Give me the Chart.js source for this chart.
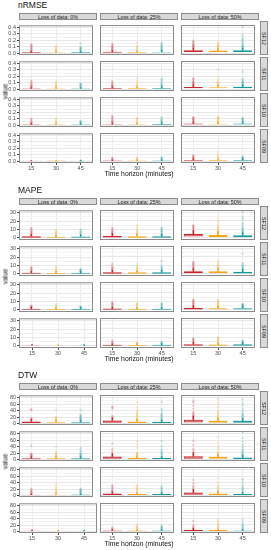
<!DOCTYPE html>
<html lang="en">
<head>
<meta charset="UTF-8">
<title>Forecast error by time horizon</title>
<script src="https://cdn.jsdelivr.net/npm/chart.js"></script>
<style>
  body { margin: 0; background: #fff; font-family: "Liberation Sans", Arial, sans-serif; }
  #page { position: relative; width: 271px; height: 550px; overflow: hidden; }
  canvas { position: absolute; }
  .title { position: absolute; left: 18px; font-size: 8.5px; line-height: 9px; color: #111; }
  .strip {
    position: absolute; box-sizing: border-box; background: #d9d9d9; border: 1px solid #8c8c8c;
    font-size: 5.4px; color: #222; display: flex; align-items: center; justify-content: center; white-space: nowrap;
  }
  .strip.side { writing-mode: vertical-rl; }
  .ylab { position: absolute; width: 30px; text-align: center; font-size: 6.5px; line-height: 7px; color: #111; transform: rotate(-90deg); }
  .xlab { position: absolute; left: 19px; width: 240px; text-align: center; font-size: 6.8px; line-height: 8px; color: #111; }
</style>
</head>
<body>
<div id="page"></div>
<script>
const metricNames = ['nRMSE', 'MAPE', 'DTW'];
const lossLabels = ['Loss of data: 0%', 'Loss of data: 25%', 'Loss of data: 50%'];
const sites = ['SF12', 'SF11', 'SF10', 'SF09'];
const horizons = ['15', '30', '45'];

// boxes: [q1, q3, upper whisker] for site row / loss column / horizon
const nrmseBoxes = [
  [[[0.002,0.012,0.028],[0.001,0.01,0.024],[0.002,0.012,0.028]],
   [[0.006,0.02,0.04],[0.006,0.018,0.036],[0.008,0.022,0.045]],
   [[0.018,0.042,0.08],[0.018,0.038,0.07],[0.018,0.042,0.08]]],
  [[[0.002,0.01,0.025],[0.001,0.009,0.022],[0.002,0.01,0.024]],
   [[0.005,0.016,0.035],[0.005,0.016,0.035],[0.006,0.018,0.04]],
   [[0.012,0.032,0.065],[0.012,0.03,0.06],[0.014,0.034,0.07]]],
  [[[0.002,0.01,0.022],[0.001,0.009,0.02],[0.002,0.01,0.022]],
   [[0.004,0.014,0.032],[0.004,0.013,0.03],[0.005,0.015,0.034]],
   [[0.008,0.024,0.05],[0.008,0.022,0.048],[0.008,0.024,0.05]]],
  [[[0,0.004,0.008],[0,0.003,0.007],[0,0.004,0.008]],
   [[0.002,0.008,0.016],[0.001,0.007,0.015],[0.002,0.009,0.018]],
   [[0.004,0.018,0.04],[0.004,0.016,0.036],[0.005,0.018,0.04]]]
];
const nrmseOutliers = [
  [[[0.035,0.045,0.055,0.065,0.08,0.095,0.11,0.125,0.14],[0.03,0.04,0.05,0.06,0.075,0.09,0.11],[0.035,0.045,0.055,0.065,0.075,0.085,0.095,0.15]],
   [[0.05,0.06,0.07,0.08,0.09,0.1,0.115,0.13,0.145],[0.045,0.06,0.08,0.095,0.11,0.16],[0.055,0.065,0.075,0.085,0.1,0.11,0.125,0.14,0.16]],
   [[0.09,0.1,0.11,0.12,0.13,0.14,0.16,0.175,0.19],[0.08,0.09,0.1,0.11,0.12,0.13,0.15,0.165],[0.09,0.1,0.11,0.12,0.14,0.16,0.18,0.2,0.22,0.25,0.28,0.41]]],
  [[[0.03,0.04,0.05,0.06,0.075,0.09,0.11,0.13],[0.03,0.04,0.05,0.065,0.08,0.1,0.12],[0.03,0.04,0.05,0.06,0.07,0.08,0.09]],
   [[0.04,0.05,0.06,0.07,0.085,0.1,0.12],[0.04,0.05,0.06,0.08,0.1,0.13,0.17],[0.05,0.06,0.07,0.08,0.1,0.12,0.14,0.16]],
   [[0.07,0.08,0.09,0.1,0.11,0.12,0.14,0.155,0.17],[0.07,0.08,0.09,0.1,0.12,0.15,0.19,0.3],[0.08,0.09,0.1,0.11,0.12,0.14,0.16,0.27]]],
  [[[0.025,0.035,0.045,0.06,0.08,0.1],[0.025,0.035,0.045,0.06,0.08,0.1],[0.028,0.035,0.045,0.055,0.065]],
   [[0.04,0.05,0.06,0.075,0.09,0.11,0.125,0.14],[0.035,0.045,0.06,0.08,0.1,0.11],[0.04,0.05,0.06,0.07,0.085,0.1,0.12]],
   [[0.06,0.07,0.08,0.09,0.1,0.11,0.12],[0.055,0.065,0.075,0.09,0.1,0.11,0.12,0.13],[0.06,0.07,0.08,0.09,0.1,0.11]]],
  [[[],[],[0.012]],
   [[0.02,0.03,0.04,0.05],[0.02,0.03,0.04,0.05],[0.022,0.03,0.04,0.05,0.06]],
   [[0.045,0.055,0.065,0.075,0.09],[0.045,0.06,0.08,0.1,0.14],[0.045,0.055,0.065,0.07]]]
];
const nrmseTicks = [0, 0.1, 0.2, 0.3, 0.4];
const nrmseTickLabels = ['0.0', '0.1', '0.2', '0.3', '0.4'];
const nrmseMinor = [0.05, 0.15, 0.25, 0.35];
const nrmseRange = [-0.03, 0.435];

const mapeBoxes = [
  [[[0.2,2,4.5],[0.1,1.5,3.5],[0.2,1.8,4]],
   [[0.5,2.5,5.5],[0.3,2,5],[0.3,1.8,4.5]],
   [[1.5,4.5,9],[1,3.5,8],[0.8,3,7]]],
  [[[0.1,1.5,3.5],[0.1,1.2,3],[0.1,1.3,3]],
   [[0.3,2,4.5],[0.2,1.8,4],[0.3,1.8,4.5]],
   [[0.8,3,7],[0.8,3,7],[0.5,2.5,6]]],
  [[[0.1,1.5,3],[0.1,1.2,2.8],[0.1,1.2,2.8]],
   [[0.2,1.5,3.5],[0.2,1.3,3],[0.2,1.4,3.2]],
   [[0.5,2.5,5.5],[0.4,2,5],[0.4,2,4.5]]],
  [[[0,0.8,1.6],[0,0.6,1.4],[0,0.7,1.5]],
   [[0.1,1.2,2.5],[0.1,1,2.2],[0.1,1.2,2.5]],
   [[0.3,2,4.5],[0.2,1.5,3.5],[0.3,1.8,4]]]
];
const mapeOutliers = [
  [[[5,6,7,8,9.5,11,12],[4.5,5.5,6.5,7.5,9],[5,6,7,8,10]],
   [[6,7,8,9,10.5,12],[6,7,8,9.5,11,13,15],[5,6,7,8,9,10,11,12]],
   [[10,11,12,13,14,15],[9,10,11,12,13,15,17,20,24],[8,9,10,11,12,14,16,18,22,25,31]]],
  [[[4,5,6,7,8],[3.5,4.5,5.5,7,8.5],[3.5,4,4.5,5,6]],
   [[5,6,7,8,10,12],[5,6,7,8,10,12],[5,6,7,8,10,15]],
   [[8,9,10,11,12,13,14],[8,9,10,11,13,15],[7,8,9,10,11,13,24]]],
  [[[3.5,4,4.5,5],[3.5,4.5,5.5,7],[3.2,3.6,4]],
   [[4,5,6,7,8,9],[4,5,6,7,8],[4,5,6,7,8]],
   [[6,7,8,9,10,11,12],[6,7,8,9,10,11,12],[5,5.5,6,6.5,7]]],
  [[[],[],[]],
   [[3,4,5,6],[2.8,3.2,3.6,4],[3,3.5,4,5]],
   [[5,6,7,8,9],[4,5,6,7,8,9,10],[4.5,5,5.5,6]]]
];
const mapeTicks = [0, 10, 20, 30];
const mapeTickLabels = ['0', '10', '20', '30'];
const mapeMinor = [5, 15, 25];
const mapeRange = [-2.5, 33];

const dtwBoxes = [
  [[[1,6,12],[0.5,4,9],[0.5,4,9]],
   [[2,9,18],[1,6,13],[1,5,11]],
   [[3,11,23],[2,8,18],[2,8,17]]],
  [[[0.5,4,9],[0.5,4,9],[0.5,4,9]],
   [[2,9,18],[1,5,11],[1,4,9]],
   [[2,10,21],[2,8,17],[1,6,14]]],
  [[[0.5,2,4.5],[0.5,2,4.5],[0.5,2.5,5]],
   [[1,6,12],[1,4,9],[1,4,9]],
   [[2,9,19],[1,6,13],[1,4,9]]],
  [[[0,2,4],[0,1.5,3],[0,1.8,3.5]],
   [[0.5,3,6],[0.5,2.5,5],[0.5,3,6]],
   [[1,5,10],[1,4,8],[1,3,7]]]
];
const dtwOutliers = [
  [[[13,15,17,42,44],[10,12,14,16,18,20,42],[10,12,14,16,18,20,22,25,28,42]],
   [[20,24,45,50,52],[15,18,21,24,27,30,35,40,50,66],[13,16,19,22,25,28,32,40,45,67]],
   [[25,28,32,35,45,55,65,70],[20,23,26,30,34,38,50,62,75],[19,22,25,28,32,38,45,55,62,73]]],
  [[[10,12,14,16,18,43],[10,12,14,17,20,23,38],[10,12,14,16,18,22,26,30,36]],
   [[20,26,32,49],[13,15,17,19,21,35,45,56],[11,14,17,20,23,26,30,40,57]],
   [[23,28,33,45,58],[19,23,28,34,40,52,70],[16,19,22,25,28,32,38,45,55,66,85]]],
  [[[5,7,9,11,14,17,20],[6,8,10,13,16,20,25,34],[6,8,10,12,14,16,18,20]],
   [[14,17,20,24,28,31],[11,14,17,20,24,28,32],[11,14,17,20,24,28]],
   [[21,25,30,38,48],[15,18,22,26,30,40,54],[11,14,17,20,24,28,34,42,50]]],
  [[[],[],[]],
   [[7,9,12],[6,8,10,13,16,20],[7,9,11,13,15,18]],
   [[12,15,20,32],[10,13,16,20,25,30,36],[9,12,15,18,22,28,35]]]
];
const dtwTicks = [0, 20, 40, 60, 80];
const dtwTickLabels = ['0', '20', '40', '60', '80'];
const dtwMinor = [10, 30, 50, 70];
const dtwRange = [-5, 88];

const solid = ['#c9252c', '#f2a516', '#159a9c'];
const boxFill = ['rgba(201,37,44,0.6)', 'rgba(242,165,22,0.6)', 'rgba(21,154,156,0.6)'];
const dots = ['rgba(201,37,44,0.22)', 'rgba(242,165,22,0.22)', 'rgba(21,154,156,0.22)'];

const allBoxes = [nrmseBoxes, mapeBoxes, dtwBoxes];
const allOutliers = [nrmseOutliers, mapeOutliers, dtwOutliers];
const allTicks = [nrmseTicks, mapeTicks, dtwTicks];
const allTickLabels = [nrmseTickLabels, mapeTickLabels, dtwTickLabels];
const allMinor = [nrmseMinor, mapeMinor, dtwMinor];
const allRanges = [nrmseRange, mapeRange, dtwRange];

const groupTop = [0, 185, 370];
const colLeft = [19, 100, 181];
const rowTop = [21, 57, 93, 129];
const panelW = 78, panelH = 34, axisW = 19, axisH = 8;

Chart.defaults.font.family = '"Liberation Sans", Arial, sans-serif';

const panelBorder = {
  id: 'panelBorder',
  afterDatasetsDraw(chart) {
    const a = chart.chartArea, ctx = chart.ctx;
    ctx.save();
    ctx.strokeStyle = '#8c8c8c';
    ctx.lineWidth = 1;
    ctx.strokeRect(a.left + 0.5, a.top + 0.5, a.right - a.left - 1, a.bottom - a.top - 1);
    ctx.restore();
  }
};

const page = document.getElementById('page');
function addDiv(cls, text, css) {
  const d = document.createElement('div');
  d.className = cls;
  d.textContent = text;
  Object.assign(d.style, css);
  page.appendChild(d);
  return d;
}

function drawPanel(g, r, c) {
  const T = groupTop[g];
  const boxes = allBoxes[g][r][c];
  const outl = allOutliers[g][r][c];
  const major = allTicks[g], labels = allTickLabels[g];
  const gridVals = major.concat(allMinor[g]).sort((a, b) => a - b);
  const showY = c === 0, showX = r === sites.length - 1;

  const cv = document.createElement('canvas');
  cv.width = axisW + panelW;
  cv.height = panelH + axisH;
  cv.style.left = (colLeft[c] - axisW) + 'px';
  cv.style.top = (T + rowTop[r]) + 'px';
  cv.style.width = cv.width + 'px';
  cv.style.height = cv.height + 'px';
  page.appendChild(cv);

  const datasets = [
    {
      type: 'bar', order: 0, grouped: false,
      data: boxes.map(b => [b[0], b[1]]),
      backgroundColor: boxFill, borderColor: solid, borderWidth: 1, borderSkipped: false,
      barPercentage: 0.77, categoryPercentage: 1
    },
    {
      type: 'bar', order: 1, grouped: false,
      data: boxes.map(b => [b[1], b[2]]),
      backgroundColor: solid, barThickness: 1
    }
  ];
  horizons.forEach((h, i) => {
    datasets.push({
      type: 'line', order: 2, showLine: false,
      data: outl[i].map(v => ({ x: h, y: v })),
      pointRadius: 1.2, pointBorderWidth: 0, pointBackgroundColor: dots[i]
    });
  });

  new Chart(cv, {
    type: 'bar',
    data: { labels: horizons, datasets },
    options: {
      responsive: false, animation: false, events: [],
      layout: { padding: 0 },
      plugins: { legend: { display: false }, tooltip: { enabled: false } },
      scales: {
        x: {
          type: 'category', offset: true,
          grid: { offset: false, color: '#ebebeb', drawTicks: showX, tickLength: 2, tickColor: '#444' },
          border: { display: false },
          ticks: { display: showX, font: { size: 5.5 }, color: '#4d4d4d', padding: 0, maxRotation: 0, autoSkip: false },
          afterFit: s => { s.height = axisH; }
        },
        y: {
          type: 'linear', min: allRanges[g][0], max: allRanges[g][1],
          afterBuildTicks: s => { s.ticks = gridVals.map(v => ({ value: v })); },
          grid: {
            color: ctx => major.includes(ctx.tick.value) ? '#e8e8e8' : '#f5f5f5',
            tickColor: ctx => major.includes(ctx.tick.value) ? '#444' : 'rgba(0,0,0,0)',
            drawTicks: showY, tickLength: 2
          },
          border: { display: false },
          ticks: {
            display: showY, autoSkip: false, font: { size: 5.5 }, color: '#4d4d4d', padding: 1,
            callback: v => { const i = major.indexOf(v); return i >= 0 ? labels[i] : ''; }
          },
          afterFit: s => { s.width = axisW; }
        }
      }
    },
    plugins: [panelBorder]
  });
}

metricNames.forEach((name, g) => {
  const T = groupTop[g];
  addDiv('title', name, { top: (T + 1) + 'px' });
  lossLabels.forEach((lab, c) => {
    addDiv('strip', lab, { left: colLeft[c] + 'px', top: (T + 13) + 'px', width: panelW + 'px', height: '7px' });
  });
  sites.forEach((s, r) => {
    addDiv('strip side', s, { left: '260px', top: (T + rowTop[r]) + 'px', width: '8px', height: panelH + 'px' });
    lossLabels.forEach((lab, c) => drawPanel(g, r, c));
  });
  addDiv('ylab', 'value', { left: '-10px', top: (T + 88) + 'px' });
  addDiv('xlab', 'Time horizon (minutes)', { top: (T + 170) + 'px' });
});
</script>
</body>
</html>
